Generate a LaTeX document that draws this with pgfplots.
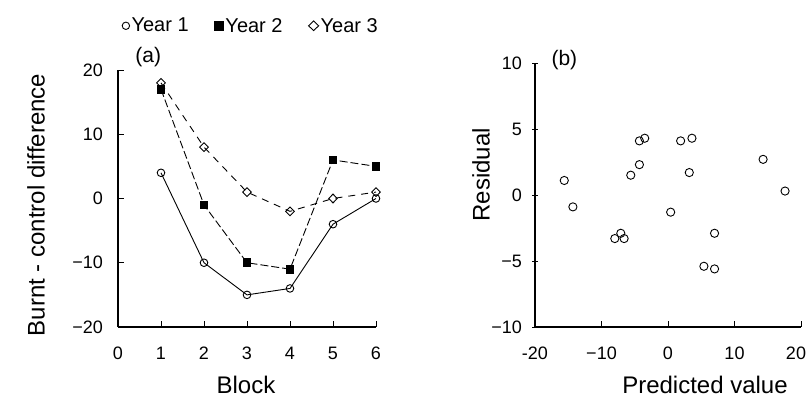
\documentclass[border=0pt]{standalone}
\usepackage{pgfplots}
\pgfplotsset{compat=1.18}
\usepackage{fontspec}
\setmainfont{Liberation Sans}
\newcommand\tickfont{\fontsize{18}{20}\selectfont}
\newcommand\labfont{\fontsize{24}{28}\selectfont}
\begin{document}
\begin{tikzpicture}
\path[use as bounding box] (0,0) rectangle (809pt,398pt);
\begin{axis}[
  at={(118pt,71pt)}, anchor=south west,
  scale only axis, width=258pt, height=257pt,
  xmin=0, xmax=6, ymin=-20, ymax=20,
  clip=false,
  axis lines=left, axis line style={-, line width=1.1pt},
  tick align=inside, major tick length=6pt,
  tick style={line width=0.9pt, black},
  xtick={0,1,2,3,4,5,6},
  xticklabels={0,1,2,3,4,5,6},
  ytick={-20,-10,0,10,20},
  yticklabels={−20,−10,0,10,20},
  xticklabel style={anchor=base, yshift=-33pt, font=\tickfont},
  yticklabel style={anchor=east, inner sep=0pt, xshift=-15pt, font=\tickfont},
  xlabel={Block},
  xlabel style={at={(axis description cs:0.496,-0.2607)}, anchor=base, font=\labfont},
  ylabel={Burnt - control difference},
  ylabel style={at={(axis description cs:-0.318,0.475)}, anchor=center, font=\labfont},
  legend image code/.code={\draw[mark repeat=2,mark phase=2,#1] plot coordinates {(0pt,0pt)(5pt,0pt)(10pt,0pt)};},
  legend style={draw=none, fill=none, inner sep=0pt,
    at={(axis description cs:0.0155,1.172)}, anchor=west,
    font=\fontsize{20}{22}\selectfont, nodes={inner sep=2pt}},
  legend columns=3, legend cell align=left,
]
\addlegendimage{only marks, mark=o, mark size=3.7pt, line width=0.9pt}
\addlegendentry{Year 1\hspace*{24pt}}
\addlegendimage{only marks, mark=square*, mark size=4.4pt, black}
\addlegendentry{Year 2\hspace*{24pt}}
\addlegendimage{only marks, mark=diamond, mark size=4.8pt, line width=0.9pt, mark options={xscale=1.4}}
\addlegendentry{Year 3}

% Year 1
\addplot[black, line width=0.9pt, mark=o, mark size=3.8pt, mark options={solid, fill=white}, forget plot]
  coordinates {(1,4) (2,-10) (3,-15) (4,-14) (5,-4) (6,0)};
% Year 2
\addplot[black, line width=0.9pt, dash pattern=on 8pt off 3pt, mark=square*, mark size=3.8pt, mark options={solid}, forget plot]
  coordinates {(1,17) (2,-1) (3,-10) (4,-11) (5,6) (6,5)};
% Year 3
\addplot[black, line width=0.9pt, dash pattern=on 7pt off 6pt, mark=diamond, mark size=4.4pt, mark options={solid, fill=white, xscale=1.3}, forget plot]
  coordinates {(1,18) (2,8) (3,1) (4,-2) (5,0) (6,1)};

\node[anchor=base west, font=\fontsize{21}{24}\selectfont] at (axis description cs:0.054,1.031) {(a)};
\end{axis}

\begin{axis}[
  at={(535pt,71pt)}, anchor=south west,
  scale only axis, width=266pt, height=264pt,
  xmin=-20, xmax=20, ymin=-10, ymax=10,
  clip=false,
  axis lines=left, axis line style={-, line width=1.1pt},
  tick align=inside, major tick length=6pt,
  tick style={line width=0.9pt, black},
  major y tick style={xshift=-3pt},
  xtick={-20,-10,0,10,20},
  xticklabels={-20,−10,0,10,{\hspace*{-10pt}20}},
  ytick={-10,-5,0,5,10},
  yticklabels={−10,−5,0,5,10},
  xticklabel style={anchor=base, yshift=-33pt, font=\tickfont},
  yticklabel style={anchor=east, inner sep=0pt, xshift=-13pt, font=\tickfont},
  xlabel={Predicted value},
  xlabel style={at={(axis description cs:0.639,-0.2538)}, anchor=base, font=\labfont},
  ylabel={Residual},
  ylabel style={at={(axis description cs:-0.203,0.576)}, anchor=center, font=\labfont},
]
\addplot[only marks, mark=o, mark size=4.1pt, line width=0.9pt, black]
  coordinates {(-15.6,1.1) (-14.3,-0.9) (-8.0,-3.3) (-7.1,-2.9) (-6.6,-3.3)
               (-5.6,1.5) (-4.3,2.3) (-4.3,4.1) (-3.5,4.3) (0.4,-1.3)
               (1.9,4.1) (3.2,1.7) (3.6,4.3) (5.4,-5.4) (7.0,-5.6)
               (7.0,-2.9) (14.3,2.7) (17.6,0.3)};
\node[anchor=base west, font=\fontsize{21}{24}\selectfont] at (axis description cs:0.049,0.992) {(b)};
\end{axis}
\end{tikzpicture}
\end{document}
